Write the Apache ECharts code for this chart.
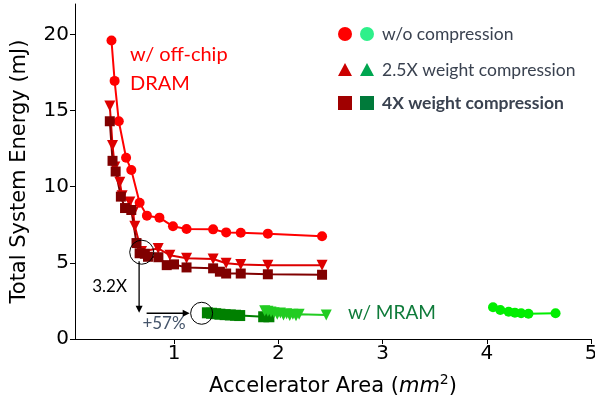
<!DOCTYPE html>
<html>
<head>
<meta charset="utf-8">
<script src="https://cdn.jsdelivr.net/npm/echarts@6/dist/echarts.min.js"></script>
<style>
    html, body { margin: 0; padding: 0; background: #fff; }
    #main { width: 595px; height: 403px; }
</style>
</head>
<body>
<div id="main"></div>
<script>
// off-chip DRAM, no compression
var dramNoneX = [0.40, 0.43, 0.47, 0.54, 0.59, 0.67, 0.74, 0.86, 0.99, 1.12, 1.375, 1.50, 1.64, 1.90, 2.42];
var dramNoneY = [19.6, 16.95, 14.3, 11.9, 11.1, 8.95, 8.1, 7.97, 7.4, 7.22, 7.2, 7.0, 6.98, 6.92, 6.75];
// off-chip DRAM, 2.5X weight compression
var dram25X = [0.384, 0.41, 0.432, 0.48, 0.502, 0.576, 0.608, 0.624, 0.688, 0.848, 0.96, 1.12, 1.375, 1.50, 1.64, 1.90, 2.42];
var dram25Y = [15.3, 12.7, 11.3, 10.3, 9.4, 9.0, 8.3, 7.4, 5.75, 5.95, 5.5, 5.3, 5.25, 4.97, 4.9, 4.84, 4.84];
// off-chip DRAM, 4X weight compression
var dram4X = [0.384, 0.41, 0.44, 0.49, 0.53, 0.59, 0.64, 0.67, 0.72, 0.75, 0.85, 0.93, 1.0, 1.12, 1.375, 1.44, 1.50, 1.64, 1.90, 2.42];
var dram4Y = [14.3, 11.7, 11.0, 9.35, 8.6, 8.47, 6.3, 5.63, 5.6, 5.4, 5.37, 4.85, 4.9, 4.7, 4.64, 4.42, 4.3, 4.3, 4.25, 4.22];
// MRAM, 4X weight compression
var mram4X = [1.32, 1.36, 1.40, 1.44, 1.49, 1.54, 1.59, 1.63, 1.86, 1.91];
var mram4Y = [1.72, 1.69, 1.66, 1.63, 1.60, 1.58, 1.56, 1.54, 1.46, 1.46];
// MRAM, 2.5X weight compression
var mram25X = [1.87, 1.90, 1.93, 1.96, 1.99, 2.02, 2.05, 2.08, 2.11, 2.14, 2.17, 2.20, 2.46];
var mram25Y = [1.85, 1.82, 1.78, 1.72, 1.62, 1.70, 1.58, 1.66, 1.55, 1.63, 1.52, 1.62, 1.58];
// MRAM, no compression
var mramNoneX = [4.06, 4.13, 4.21, 4.27, 4.33, 4.40, 4.66];
var mramNoneY = [2.08, 1.90, 1.79, 1.73, 1.69, 1.66, 1.69];

var xTicks = [1, 2, 3, 4, 5];
var yTicks = [0, 5, 10, 15, 20];

var legendItems = ['w/o compression', '2.5X weight compression', '4X weight compression'];

function pairs(xs, ys) {
    return xs.map(function (x, i) { return [x, ys[i]]; });
}

var chart = echarts.init(document.getElementById('main'), null, {renderer: 'canvas'});

var tickFont = {fontFamily: 'DejaVu Sans', fontSize: 20, color: '#000'};

function lineSeries(name, xs, ys, color, symbol, size, rotate) {
    return {
        name: name,
        type: 'line',
        data: pairs(xs, ys),
        symbol: symbol,
        symbolSize: size,
        symbolRotate: rotate || 0,
        showAllSymbol: true,
        lineStyle: {color: color, width: 2},
        itemStyle: {color: color},
        emphasis: {disabled: true},
        animation: false
    };
}

var option = {
    animation: false,
    grid: {left: 75, right: 4, top: 4, bottom: 64, outerBoundsMode: 'none'},
    xAxis: {
        type: 'value',
        min: 0.05,
        max: 5,
        axisLine: {lineStyle: {color: '#000', width: 1}},
        axisTick: {show: true, length: 5, lineStyle: {color: '#000'}, customValues: xTicks},
        axisLabel: Object.assign({margin: 5, customValues: xTicks}, tickFont),
        splitLine: {show: false},
        name: '{a|Accelerator Area (}{i|mm}{s|2}{a|)}',
        nameLocation: 'middle',
        nameGap: 34,
        nameTextStyle: {
            rich: {
                a: {fontFamily: 'DejaVu Sans', fontSize: 21, color: '#000'},
                i: {fontFamily: 'DejaVu Sans', fontStyle: 'italic', fontSize: 21, color: '#000'},
                s: {fontFamily: 'DejaVu Sans', fontSize: 14, color: '#000', padding: [0, 0, 13, 0]}
            }
        }
    },
    yAxis: {
        type: 'value',
        min: 0,
        max: 22,
        interval: 5,
        axisLine: {show: true, lineStyle: {color: '#000', width: 1}},
        axisTick: {show: true, length: 5, lineStyle: {color: '#000'}, customValues: yTicks},
        axisLabel: Object.assign({margin: 6, customValues: yTicks}, tickFont),
        splitLine: {show: false},
        name: 'Total System Energy (mJ)',
        nameLocation: 'middle',
        nameGap: 45,
        nameTextStyle: {fontFamily: 'DejaVu Sans', fontSize: 21, color: '#000'}
    },
    series: [
        lineSeries('dram none', dramNoneX, dramNoneY, '#ff0000', 'circle', 10),
        lineSeries('dram 2.5x', dram25X, dram25Y, '#dd0000', 'triangle', 11, 180),
        lineSeries('dram 4x', dram4X, dram4Y, '#800000', 'rect', 10),
        lineSeries('mram 4x', mram4X, mram4Y, '#008000', 'rect', 11),
        lineSeries('mram 2.5x', mram25X, mram25Y, '#22cc22', 'triangle', 11, 180),
        lineSeries('mram none', mramNoneX, mramNoneY, '#00ee00', 'circle', 10)
    ]
};
chart.setOption(option);

// annotations, anchored in data coordinates
function px(x, y) { return chart.convertToPixel({gridIndex: 0}, [x, y]); }

var annoFont = 'Lato, "Open Sans", sans-serif';
var c1 = px(0.69, 5.7), c2 = px(1.265, 1.69);
var vTop = px(0.665, 5.1), vBot = px(0.665, 1.72);
var hL = px(0.737, 1.69), hR = px(1.15, 1.69);

var graphics = [
    {type: 'circle', shape: {cx: c1[0], cy: c1[1], r: 12}, style: {fill: 'none', stroke: '#000', lineWidth: 1}, z: 100},
    {type: 'circle', shape: {cx: c2[0], cy: c2[1], r: 11}, style: {fill: 'none', stroke: '#000', lineWidth: 1}, z: 100},
    {type: 'line', shape: {x1: vTop[0], y1: vTop[1], x2: vBot[0], y2: vBot[1] - 6}, style: {stroke: '#000', lineWidth: 1.3}, z: 100},
    {type: 'polygon', shape: {points: [[vBot[0] - 3.5, vBot[1] - 7], [vBot[0] + 3.5, vBot[1] - 7], [vBot[0], vBot[1]]]}, style: {fill: '#000'}, z: 100},
    {type: 'line', shape: {x1: hL[0], y1: hL[1], x2: hR[0] - 6, y2: hR[1]}, style: {stroke: '#000', lineWidth: 1.3}, z: 100},
    {type: 'polygon', shape: {points: [[hR[0] - 7, hR[1] - 3.5], [hR[0] - 7, hR[1] + 3.5], [hR[0], hR[1]]]}, style: {fill: '#000'}, z: 100},
    {type: 'text', x: 127, y: 287, style: {text: '3.2X', font: '17px ' + annoFont, fill: '#000', align: 'right', verticalAlign: 'middle'}, z: 100},
    {type: 'text', x: 164, y: 324, style: {text: '+57%', font: '17px ' + annoFont, fill: '#44546a', align: 'center', verticalAlign: 'middle'}, z: 100},
    {type: 'text', x: 130, y: 55, style: {text: 'w/ off-chip', font: '20px ' + annoFont, fill: '#ff0000', verticalAlign: 'middle'}, z: 100},
    {type: 'text', x: 130, y: 84, style: {text: 'DRAM', font: '20px ' + annoFont, fill: '#ff0000', verticalAlign: 'middle'}, z: 100},
    {type: 'text', x: 348, y: 313, style: {text: 'w/ MRAM', font: '19px ' + annoFont, fill: '#0f7b3a', verticalAlign: 'middle'}, z: 100}
];

// legend: two markers per entry, drawn by hand
var legendRows = [34, 70, 103];
var lx1 = 345, lx2 = 367, ltx = 382;
graphics.push(
    {type: 'circle', shape: {cx: lx1, cy: legendRows[0], r: 7}, style: {fill: '#ff0000'}},
    {type: 'circle', shape: {cx: lx2, cy: legendRows[0], r: 7}, style: {fill: '#2ef08a'}},
    {type: 'polygon', shape: {points: [[lx1 - 7, legendRows[1] + 6], [lx1 + 7, legendRows[1] + 6], [lx1, legendRows[1] - 7]]}, style: {fill: '#cc0000'}},
    {type: 'polygon', shape: {points: [[lx2 - 7, legendRows[1] + 6], [lx2 + 7, legendRows[1] + 6], [lx2, legendRows[1] - 7]]}, style: {fill: '#00a650'}},
    {type: 'rect', shape: {x: lx1 - 7, y: legendRows[2] - 7, width: 14, height: 14}, style: {fill: '#a00000'}},
    {type: 'rect', shape: {x: lx2 - 7, y: legendRows[2] - 7, width: 14, height: 14}, style: {fill: '#007a3a'}}
);
legendItems.forEach(function (t, i) {
    graphics.push({
        type: 'text', x: ltx, y: legendRows[i],
        style: {text: t, font: (i === 2 ? 'bold ' : '') + '17.5px ' + annoFont, fill: '#3a4250', verticalAlign: 'middle'}
    });
});

chart.setOption({graphic: graphics});
window.onresize = chart.resize;
</script>
</body>
</html>
